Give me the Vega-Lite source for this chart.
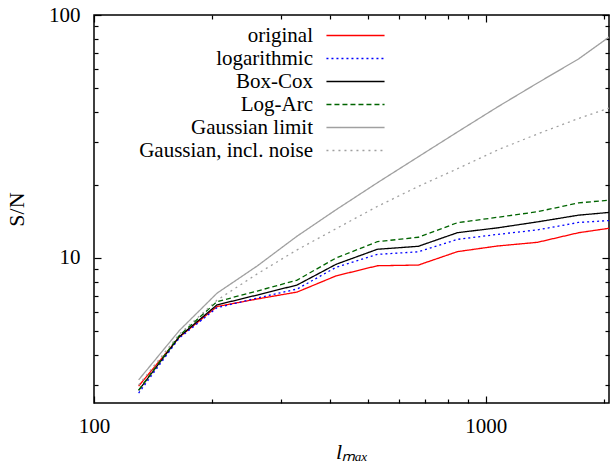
{
  "$schema": "https://vega.github.io/schema/vega-lite/v6.json",
  "width": 515,
  "height": 388,
  "autosize": "none",
  "padding": {"left": 94, "top": 15, "right": 3, "bottom": 69},
  "background": "white",
  "config": {
    "font": "Liberation Serif",
    "view": {"stroke": "black", "strokeWidth": 1.5},
    "axis": {"domain": false, "grid": false, "labelFont": "Liberation Serif", "labelFontSize": 21, "labelColor": "black", "titleFont": "Liberation Serif", "titleFontSize": 22, "titleFontWeight": "normal", "titleColor": "black", "tickColor": "black", "tickWidth": 1.2},
    "legend": {"title": null, "orient": "none", "legendX": 251, "legendY": 10, "symbolType": "M-5,0H5", "symbolSize": 135, "symbolStrokeWidth": 1.4, "labelAlign": "right", "labelOffset": -53, "labelFontSize": 21, "labelFont": "Liberation Serif", "labelColor": "black", "labelLimit": 400, "rowPadding": 1, "padding": 0}
  },
  "data": {"values": [
    {"series": "original", "l": 130, "sn": 2.97}, {"series": "original", "l": 165, "sn": 4.72}, {"series": "original", "l": 206, "sn": 6.31}, {"series": "original", "l": 261, "sn": 6.78}, {"series": "original", "l": 330, "sn": 7.24}, {"series": "original", "l": 415, "sn": 8.44}, {"series": "original", "l": 529, "sn": 9.29}, {"series": "original", "l": 673, "sn": 9.35}, {"series": "original", "l": 847, "sn": 10.62}, {"series": "original", "l": 1071, "sn": 11.2}, {"series": "original", "l": 1356, "sn": 11.6}, {"series": "original", "l": 1725, "sn": 12.7}, {"series": "original", "l": 2064, "sn": 13.25},
    {"series": "logarithmic", "l": 130, "sn": 2.78}, {"series": "logarithmic", "l": 165, "sn": 4.68}, {"series": "logarithmic", "l": 206, "sn": 6.24}, {"series": "logarithmic", "l": 261, "sn": 6.84}, {"series": "logarithmic", "l": 330, "sn": 7.45}, {"series": "logarithmic", "l": 415, "sn": 9.16}, {"series": "logarithmic", "l": 529, "sn": 10.35}, {"series": "logarithmic", "l": 673, "sn": 10.6}, {"series": "logarithmic", "l": 847, "sn": 11.93}, {"series": "logarithmic", "l": 1071, "sn": 12.5}, {"series": "logarithmic", "l": 1356, "sn": 13.05}, {"series": "logarithmic", "l": 1725, "sn": 14.0}, {"series": "logarithmic", "l": 2064, "sn": 14.25},
    {"series": "Box-Cox", "l": 130, "sn": 2.85}, {"series": "Box-Cox", "l": 165, "sn": 4.74}, {"series": "Box-Cox", "l": 206, "sn": 6.41}, {"series": "Box-Cox", "l": 261, "sn": 7.04}, {"series": "Box-Cox", "l": 330, "sn": 7.74}, {"series": "Box-Cox", "l": 415, "sn": 9.42}, {"series": "Box-Cox", "l": 529, "sn": 10.86}, {"series": "Box-Cox", "l": 673, "sn": 11.17}, {"series": "Box-Cox", "l": 847, "sn": 12.71}, {"series": "Box-Cox", "l": 1071, "sn": 13.3}, {"series": "Box-Cox", "l": 1356, "sn": 14.08}, {"series": "Box-Cox", "l": 1725, "sn": 15.0}, {"series": "Box-Cox", "l": 2064, "sn": 15.4},
    {"series": "Log-Arc", "l": 130, "sn": 2.86}, {"series": "Log-Arc", "l": 165, "sn": 4.79}, {"series": "Log-Arc", "l": 206, "sn": 6.61}, {"series": "Log-Arc", "l": 261, "sn": 7.31}, {"series": "Log-Arc", "l": 330, "sn": 8.11}, {"series": "Log-Arc", "l": 415, "sn": 10.0}, {"series": "Log-Arc", "l": 529, "sn": 11.67}, {"series": "Log-Arc", "l": 673, "sn": 12.17}, {"series": "Log-Arc", "l": 847, "sn": 13.97}, {"series": "Log-Arc", "l": 1071, "sn": 14.7}, {"series": "Log-Arc", "l": 1356, "sn": 15.5}, {"series": "Log-Arc", "l": 1725, "sn": 16.85}, {"series": "Log-Arc", "l": 2064, "sn": 17.3},
    {"series": "Gaussian limit", "l": 130, "sn": 3.15}, {"series": "Gaussian limit", "l": 165, "sn": 5.02}, {"series": "Gaussian limit", "l": 206, "sn": 7.16}, {"series": "Gaussian limit", "l": 261, "sn": 9.27}, {"series": "Gaussian limit", "l": 330, "sn": 12.3}, {"series": "Gaussian limit", "l": 415, "sn": 15.8}, {"series": "Gaussian limit", "l": 529, "sn": 20.4}, {"series": "Gaussian limit", "l": 673, "sn": 26.1}, {"series": "Gaussian limit", "l": 847, "sn": 33.0}, {"series": "Gaussian limit", "l": 1071, "sn": 41.8}, {"series": "Gaussian limit", "l": 1356, "sn": 52.5}, {"series": "Gaussian limit", "l": 1725, "sn": 65.9}, {"series": "Gaussian limit", "l": 2064, "sn": 81.1},
    {"series": "Gaussian, incl. noise", "l": 130, "sn": 3.0}, {"series": "Gaussian, incl. noise", "l": 165, "sn": 4.85}, {"series": "Gaussian, incl. noise", "l": 206, "sn": 6.7}, {"series": "Gaussian, incl. noise", "l": 261, "sn": 8.6}, {"series": "Gaussian, incl. noise", "l": 330, "sn": 10.8}, {"series": "Gaussian, incl. noise", "l": 415, "sn": 13.2}, {"series": "Gaussian, incl. noise", "l": 529, "sn": 16.3}, {"series": "Gaussian, incl. noise", "l": 673, "sn": 19.7}, {"series": "Gaussian, incl. noise", "l": 847, "sn": 23.3}, {"series": "Gaussian, incl. noise", "l": 1071, "sn": 27.8}, {"series": "Gaussian, incl. noise", "l": 1356, "sn": 32.4}, {"series": "Gaussian, incl. noise", "l": 1725, "sn": 37.5}, {"series": "Gaussian, incl. noise", "l": 2064, "sn": 41.4}
  ]},
  "layer": [
    {
      "mark": {"type": "line", "strokeWidth": 1.3, "clip": true},
      "encoding": {
        "x": {"field": "l", "type": "quantitative", "scale": {"type": "log", "domain": [100, 2064], "nice": false},
          "axis": {"title": "lₘₐₓ", "titleFontStyle": "italic", "titlePadding": 2, "values": [100, 200, 300, 400, 500, 600, 700, 800, 900, 1000, 2000],
            "labelExpr": "datum.value == 100 ? '100' : datum.value == 1000 ? '1000' : ''",
            "tickSize": {"condition": {"test": "datum.value == 100 || datum.value == 1000", "value": -7}, "value": -4},
            "labelPadding": 19, "labelFlush": false, "labelOverlap": false}},
        "y": {"field": "sn", "type": "quantitative", "scale": {"type": "log", "domain": [2.53, 100], "nice": false},
          "axis": {"title": "S/N", "titlePadding": 20, "values": [3, 4, 5, 6, 7, 8, 9, 10, 20, 30, 40, 50, 60, 70, 80, 90, 100],
            "labelExpr": "datum.value == 10 ? '10' : datum.value == 100 ? '100' : ''",
            "tickSize": {"condition": {"test": "datum.value == 10 || datum.value == 100", "value": -7}, "value": -4},
            "labelPadding": 21, "labelFlush": false, "labelOverlap": false}},
        "color": {"field": "series", "type": "nominal",
          "scale": {"domain": ["original", "logarithmic", "Box-Cox", "Log-Arc", "Gaussian limit", "Gaussian, incl. noise"], "range": ["#ff0000", "#0000ff", "#000000", "#006400", "#a0a0a0", "#a0a0a0"]}},
        "strokeDash": {"field": "series", "type": "nominal",
          "scale": {"domain": ["original", "logarithmic", "Box-Cox", "Log-Arc", "Gaussian limit", "Gaussian, incl. noise"], "range": [[1, 0], [2, 3], [1, 0], [5, 3], [1, 0], [2, 4]]}}
      }
    },
    {
      "mark": {"type": "point", "opacity": 0},
      "encoding": {
        "x": {"field": "l", "type": "quantitative", "scale": {"type": "log", "domain": [100, 2064], "nice": false},
          "axis": {"orient": "top", "title": null, "labels": false, "values": [100, 200, 300, 400, 500, 600, 700, 800, 900, 1000, 2000],
            "tickSize": {"condition": {"test": "datum.value == 100 || datum.value == 1000", "value": -7}, "value": -4}}},
        "y": {"field": "sn", "type": "quantitative", "scale": {"type": "log", "domain": [2.53, 100], "nice": false},
          "axis": {"orient": "right", "title": null, "labels": false, "values": [3, 4, 5, 6, 7, 8, 9, 10, 20, 30, 40, 50, 60, 70, 80, 90, 100],
            "tickSize": {"condition": {"test": "datum.value == 10 || datum.value == 100", "value": -7}, "value": -4}}}
      }
    }
  ],
  "resolve": {"axis": {"x": "independent", "y": "independent"}}
}
